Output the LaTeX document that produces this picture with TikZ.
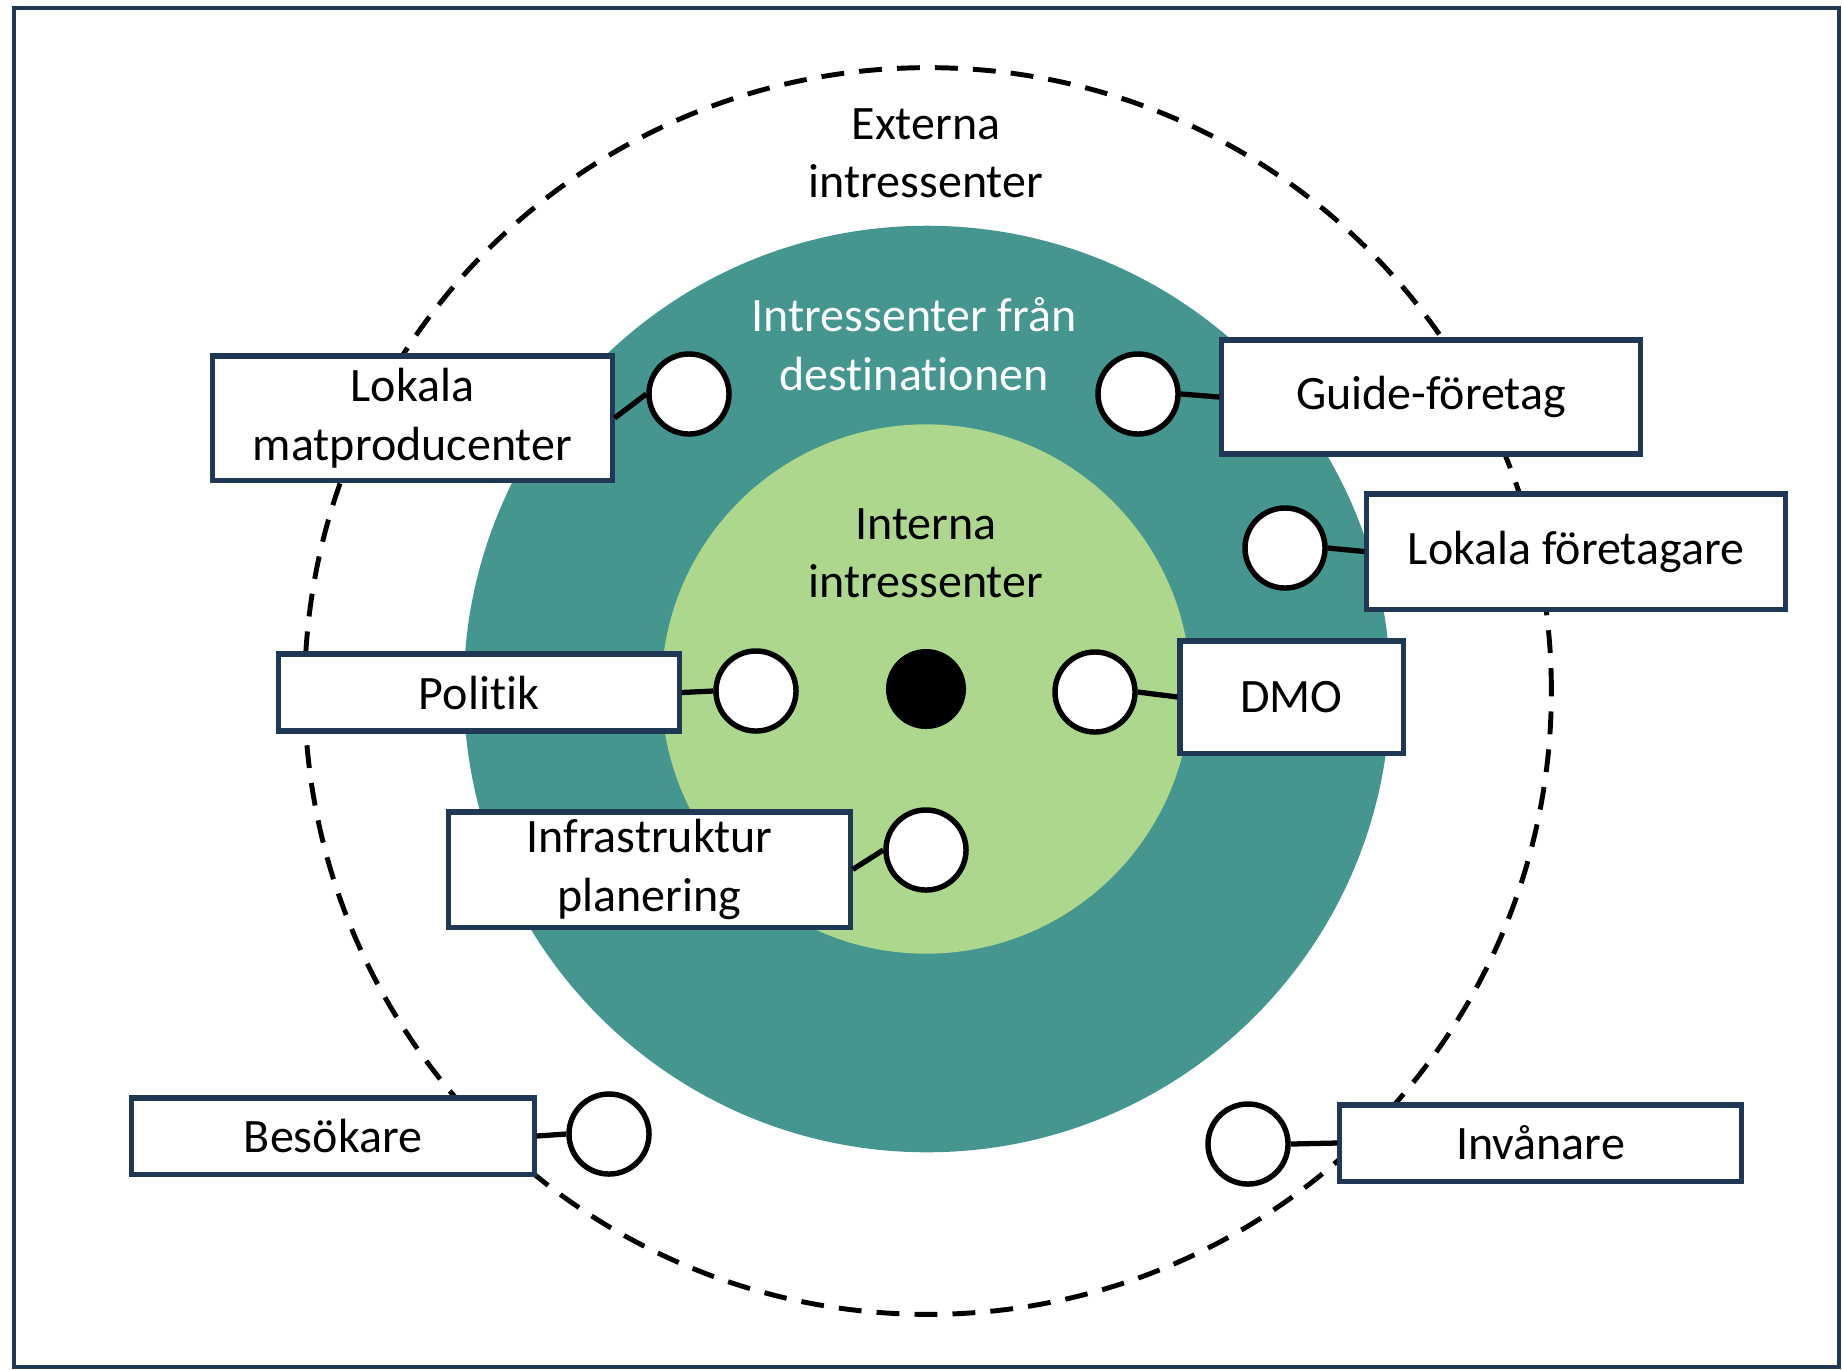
\documentclass[tikz,border=0pt]{standalone}
\usepackage{fontspec}
\setmainfont[Ligatures={NoCommon,NoContextual}, Contextuals=NoAlternate]{Carlito}
\definecolor{navyline}{RGB}{31,56,86}
\definecolor{ringteal}{RGB}{68,150,142}
\definecolor{coregreen}{RGB}{173,215,141}
\tikzset{
  stakebox/.style={draw=navyline, line width=1.45pt, fill=white, inner sep=0pt,
    align=center, font=\fontsize{13.65}{16.6}\selectfont},
  holder/.style={circle, draw=black, line width=1.55pt, fill=white,
    minimum size=0.8cm, inner sep=0pt},
  tie/.style={draw=black, line width=1.5pt},
  ringlabel/.style={align=center, font=\fontsize{13.65}{16.6}\selectfont}
}
\begin{document}
\begin{tikzpicture}[x=0.01cm, y=-0.01cm]
\useasboundingbox (0,0) rectangle (1843,1369);
% outer frame
\draw[navyline, line width=1.4pt] (14,8) rectangle (1839,1367);

% stakeholder rings
\draw[black, line width=1.4pt, dash pattern=on 6.5pt off 4.3pt] (928,691) circle (6.23cm);
\fill[ringteal] (927,689) circle (4.63cm);
\fill[coregreen] (926,689) circle (2.645cm);
\fill[black] (926,689) circle (0.40cm);

% ring titles
\node[ringlabel] (ext) at (926,153) {Externa\\intressenter};
\node[ringlabel, text=white] (dest) at (914,344) {Intressenter från\\destinationen};
\node[ringlabel] (int) at (926,553) {Interna\\intressenter};

% stakeholder boxes
\node[stakebox, minimum width=3.99cm, minimum height=1.24cm] (mat) at (412.5,418) {Lokala\\matproducenter};
\node[stakebox, minimum width=4.18cm, minimum height=1.14cm] (guide) at (1431,397) {Guide-företag};
\node[stakebox, minimum width=4.18cm, minimum height=1.15cm] (lokf) at (1576,551.5) {Lokala företagare};
\node[stakebox, minimum width=4.00cm, minimum height=0.77cm] (pol) at (479,692.5) {Politik};
\node[stakebox, minimum width=2.23cm, minimum height=1.12cm] (dmo) at (1291.5,697) {DMO};
\node[stakebox, minimum width=4.01cm, minimum height=1.15cm] (infra) at (649.5,869.5) {Infrastruktur\\planering};
\node[stakebox, minimum width=4.02cm, minimum height=0.76cm] (bes) at (333,1136) {Besökare};
\node[stakebox, minimum width=4.01cm, minimum height=0.76cm] (inv) at (1540.5,1143) {Invånare};

% attachment circles
\node[holder] (cmat) at (689,394) {};
\node[holder] (cguide) at (1138,394) {};
\node[holder] (clokf) at (1285,548) {};
\node[holder] (cpol) at (756,691) {};
\node[holder] (cdmo) at (1095,692) {};
\node[holder] (cinfra) at (926,850) {};
\node[holder] (cbes) at (609,1134) {};
\node[holder] (cinv) at (1248,1144) {};

% connectors
\draw[tie] (mat.east) -- (cmat.west);
\draw[tie] (cguide.east) -- (guide.west);
\draw[tie] (clokf.east) -- (lokf.west);
\draw[tie] (pol.east) -- (cpol.west);
\draw[tie] (cdmo.east) -- (dmo.west);
\draw[tie] (infra.east) -- (cinfra.west);
\draw[tie] (bes.east) -- (cbes.west);
\draw[tie] (cinv.east) -- (inv.west);
\end{tikzpicture}
\end{document}
